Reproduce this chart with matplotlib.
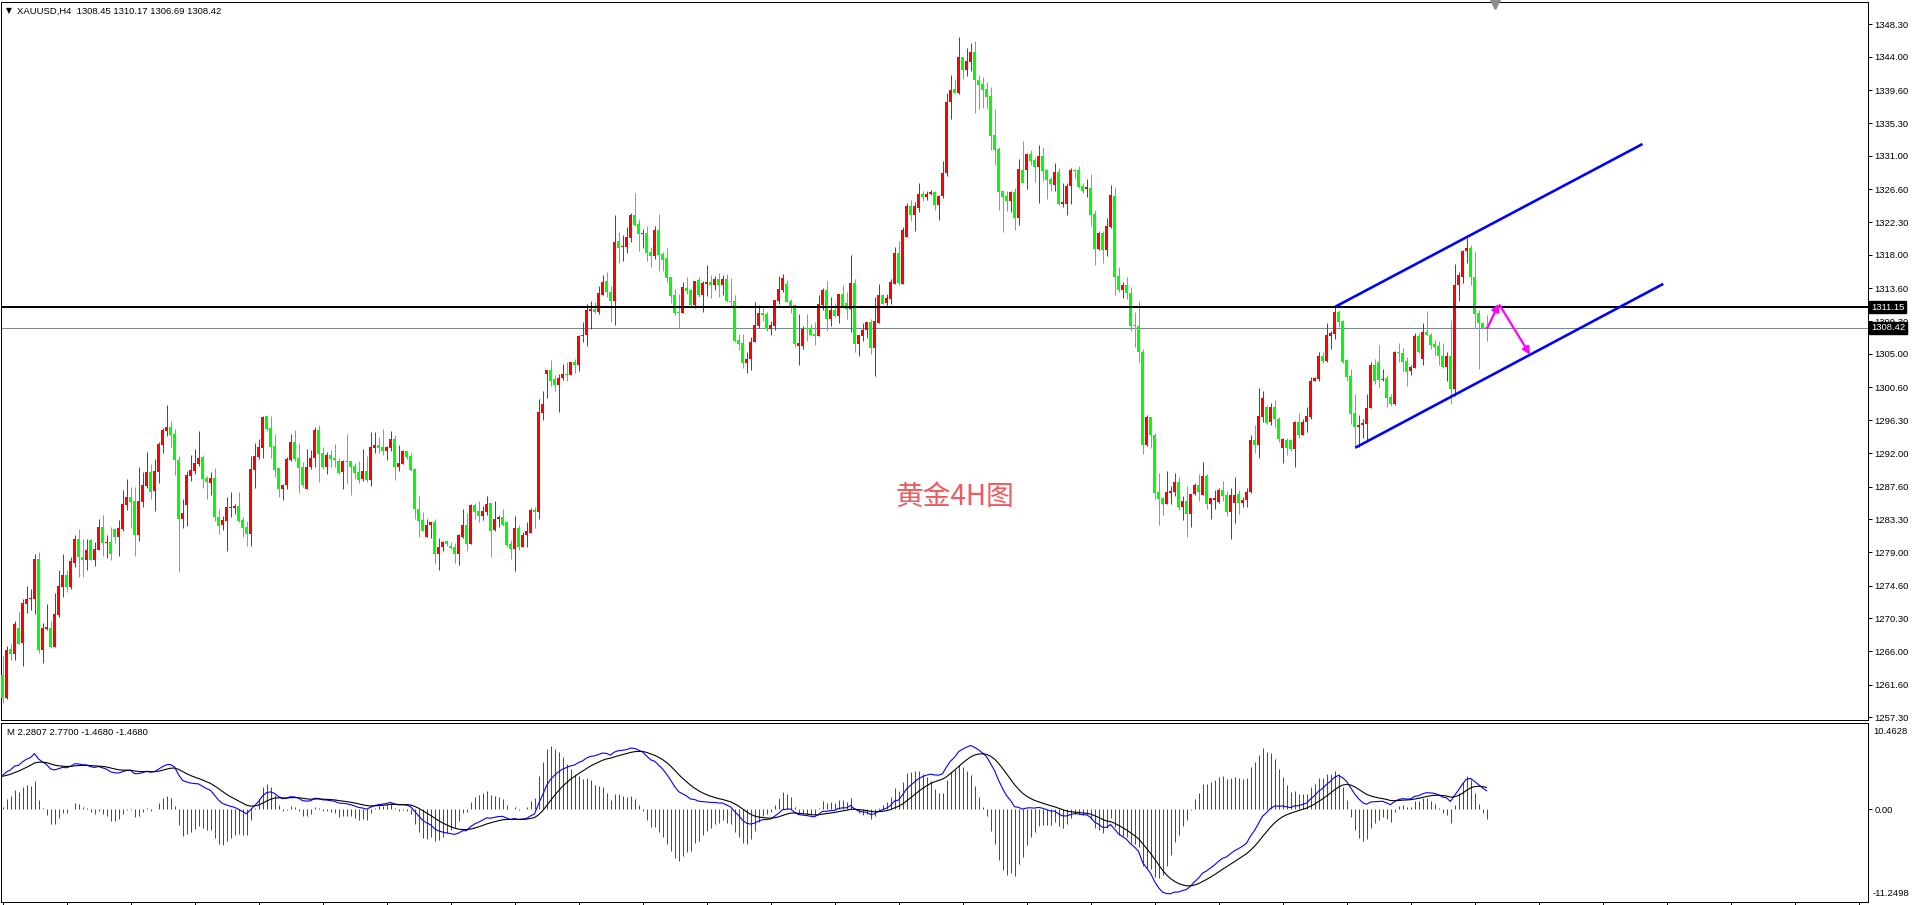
import numpy as np
import matplotlib
matplotlib.use('Agg')
import matplotlib.pyplot as plt
from matplotlib import transforms

# XAUUSD H4 candles (oldest first)
opens = [
    1262.9, 1259.9, 1266.3, 1265.6, 1269.1, 1267.1, 1272.2, 1272.8, 1272.8, 1278.1,
    1266.1, 1268.9, 1269.1, 1266.5, 1270.7, 1274.4, 1276.0, 1274.4, 1277.6, 1280.7,
    1278.3, 1278.0, 1280.6, 1277.9, 1279.3, 1282.3, 1280.2, 1280.3, 1282.0, 1281.0,
    1282.0, 1285.2, 1286.2, 1285.7, 1281.2, 1285.6, 1287.7, 1289.5, 1287.0, 1289.5,
    1293.1, 1294.9, 1295.4, 1294.5, 1291.1, 1283.3, 1285.2, 1289.0, 1289.6, 1290.6,
    1291.5, 1288.7, 1288.1, 1288.7, 1283.6, 1282.6, 1283.1, 1284.8, 1284.8, 1285.0,
    1283.2, 1282.3, 1281.4, 1289.8, 1291.5, 1292.7, 1296.9, 1295.3, 1292.9, 1290.0,
    1287.3, 1287.8, 1291.1, 1293.4, 1291.3, 1290.1, 1287.3, 1290.1, 1291.3, 1295.0,
    1292.0, 1290.2, 1291.7, 1291.4, 1291.0, 1289.5, 1291.0, 1290.9, 1290.3, 1289.5,
    1288.6, 1289.6, 1288.5, 1292.7, 1293.1, 1292.8, 1292.3, 1292.7, 1293.8, 1290.2,
    1290.6, 1292.2, 1291.6, 1289.9, 1284.6, 1283.2, 1281.0, 1282.6, 1282.9, 1278.8,
    1279.6, 1280.4, 1279.8, 1279.6, 1278.7, 1281.0, 1282.6, 1280.1, 1285.2, 1284.4,
    1283.7, 1284.3, 1285.4, 1281.9, 1283.3, 1283.6, 1282.9, 1280.1, 1279.4, 1282.2,
    1279.6, 1281.2, 1281.5, 1284.5, 1284.3, 1297.3, 1302.4, 1302.9, 1301.7, 1300.9,
    1301.8, 1302.4, 1302.2, 1303.9, 1303.6, 1307.4, 1307.5, 1310.6, 1310.9, 1310.5,
    1312.8, 1314.6, 1313.1, 1312.0, 1319.8, 1319.1, 1319.1, 1320.2, 1323.2, 1322.1,
    1320.7, 1320.9, 1318.4, 1317.9, 1321.3, 1318.1, 1317.6, 1315.1, 1312.7, 1310.5,
    1310.4, 1313.7, 1313.4, 1311.4, 1314.7, 1312.7, 1314.2, 1314.4, 1314.1, 1314.8,
    1314.1, 1314.8, 1312.0, 1311.9, 1306.8, 1306.4, 1303.8, 1304.3, 1306.6, 1308.7,
    1310.4, 1310.2, 1308.3, 1308.7, 1311.9, 1313.4, 1314.2, 1311.9, 1311.4, 1306.1,
    1306.1, 1308.4, 1308.4, 1307.6, 1307.4, 1311.4, 1313.4, 1309.6, 1310.8, 1310.0,
    1312.9, 1311.7, 1310.9, 1314.3, 1306.3, 1307.4, 1308.1, 1309.2, 1305.8, 1309.1,
    1312.7, 1311.7, 1312.2, 1314.2, 1318.3, 1314.2, 1320.4, 1324.4, 1323.2, 1324.2,
    1326.0, 1325.6, 1326.0, 1326.3, 1324.6, 1325.7, 1328.7, 1338.0, 1339.8, 1339.2,
    1344.0, 1342.3, 1343.3, 1344.6, 1341.0, 1340.4, 1339.8, 1338.9, 1333.7, 1331.9,
    1326.4, 1325.7, 1325.1, 1326.3, 1322.8, 1329.1, 1329.1, 1331.2, 1330.5, 1329.5,
    1331.0, 1329.1, 1328.0, 1327.2, 1328.9, 1324.7, 1324.7, 1327.0, 1329.1, 1329.1,
    1327.0, 1326.6, 1326.8, 1323.4, 1318.8, 1320.9, 1318.6, 1321.7, 1325.7, 1315.2,
    1313.4, 1314.1, 1313.0, 1308.8, 1308.7, 1305.3, 1293.1, 1296.7, 1294.4, 1286.9,
    1286.1, 1285.3, 1286.8, 1286.9, 1288.2, 1284.9, 1285.7, 1284.0, 1286.6, 1287.8,
    1286.5, 1289.0, 1285.3, 1285.8, 1285.6, 1287.1, 1286.5, 1284.2, 1285.4, 1286.6,
    1285.4, 1285.8, 1286.9, 1293.7, 1293.0, 1296.7, 1298.0, 1296.1, 1298.0, 1296.5,
    1292.7, 1293.7, 1293.7, 1292.5, 1296.1, 1294.4, 1296.1, 1296.7, 1301.4, 1301.7,
    1304.7, 1304.1, 1307.4, 1307.6, 1310.5, 1309.3, 1304.2, 1302.1, 1297.2, 1295.4,
    1295.7, 1295.8, 1297.9, 1303.5, 1303.9, 1301.6, 1301.8, 1299.3, 1298.4, 1305.3,
    1305.1, 1304.1, 1302.7, 1303.2, 1307.4, 1304.4, 1307.9, 1307.5, 1306.3, 1306.1,
    1304.7, 1303.3, 1304.7, 1300.4, 1314.1, 1315.1, 1318.5, 1318.9, 1315.1, 1310.4,
    1309.1, 1308.45,
]
highs = [
    1265.3, 1266.7, 1267.0, 1269.9, 1271.1, 1272.8, 1274.5, 1274.2, 1278.7, 1279.0,
    1269.7, 1272.2, 1270.0, 1273.6, 1276.6, 1278.7, 1276.7, 1278.4, 1281.2, 1282.0,
    1280.7, 1280.7, 1280.7, 1280.3, 1283.3, 1283.9, 1281.2, 1282.3, 1282.2, 1283.2,
    1287.1, 1288.6, 1287.5, 1287.5, 1290.2, 1289.5, 1292.1, 1290.6, 1291.2, 1293.4,
    1295.3, 1298.3, 1296.2, 1295.2, 1291.6, 1286.0, 1289.6, 1291.7, 1292.5, 1294.9,
    1291.7, 1289.0, 1289.5, 1290.0, 1284.7, 1283.7, 1286.2, 1286.9, 1285.3, 1286.9,
    1283.6, 1283.1, 1291.6, 1293.3, 1293.8, 1296.9, 1296.9, 1296.9, 1294.5, 1290.0,
    1287.9, 1291.5, 1294.5, 1295.0, 1293.3, 1290.8, 1292.5, 1292.4, 1295.4, 1295.7,
    1292.8, 1292.1, 1292.4, 1293.2, 1291.4, 1291.1, 1294.5, 1291.0, 1290.7, 1291.0,
    1292.5, 1291.6, 1294.8, 1294.7, 1294.1, 1295.2, 1292.9, 1294.9, 1294.4, 1293.1,
    1292.4, 1292.3, 1292.0, 1290.0, 1286.4, 1284.3, 1283.3, 1282.9, 1283.4, 1280.8,
    1280.5, 1280.6, 1280.3, 1280.2, 1281.4, 1284.7, 1284.1, 1285.3, 1285.4, 1285.7,
    1285.0, 1286.4, 1285.5, 1285.7, 1283.9, 1284.7, 1283.1, 1280.6, 1283.7, 1282.6,
    1281.6, 1283.0, 1284.8, 1284.9, 1299.1, 1300.1, 1302.9, 1304.2, 1302.2, 1302.4,
    1303.7, 1304.0, 1304.0, 1304.4, 1307.5, 1309.2, 1311.6, 1311.9, 1311.8, 1313.9,
    1315.4, 1315.8, 1313.9, 1323.2, 1321.0, 1320.6, 1321.7, 1323.5, 1326.1, 1322.7,
    1321.4, 1321.8, 1319.0, 1321.8, 1323.4, 1318.4, 1318.9, 1315.1, 1313.5, 1312.9,
    1314.5, 1315.1, 1313.5, 1314.6, 1315.1, 1314.6, 1316.7, 1315.4, 1315.2, 1315.6,
    1315.4, 1315.5, 1315.0, 1312.7, 1307.6, 1307.6, 1305.3, 1307.2, 1311.8, 1311.4,
    1311.0, 1310.5, 1309.3, 1312.1, 1315.2, 1315.5, 1314.7, 1312.2, 1311.4, 1310.2,
    1308.7, 1310.2, 1308.9, 1309.2, 1312.7, 1313.7, 1314.6, 1312.5, 1311.7, 1312.9,
    1314.1, 1313.1, 1318.0, 1314.8, 1307.5, 1309.1, 1309.2, 1309.6, 1312.5, 1314.2,
    1312.9, 1312.9, 1314.8, 1319.0, 1319.8, 1321.7, 1324.8, 1325.2, 1325.0, 1327.4,
    1326.4, 1326.4, 1326.5, 1326.4, 1325.9, 1330.3, 1339.2, 1341.6, 1341.1, 1346.6,
    1344.0, 1345.2, 1345.8, 1346.1, 1341.6, 1341.4, 1340.7, 1340.0, 1337.2, 1332.2,
    1326.4, 1326.4, 1326.4, 1326.8, 1330.6, 1332.9, 1331.4, 1331.8, 1330.9, 1332.4,
    1332.2, 1329.3, 1328.2, 1330.1, 1329.4, 1327.4, 1327.4, 1329.4, 1329.3, 1329.7,
    1327.4, 1328.0, 1328.6, 1323.9, 1321.1, 1321.1, 1322.9, 1327.2, 1326.9, 1316.4,
    1314.4, 1315.1, 1313.8, 1310.5, 1311.9, 1305.7, 1297.0, 1296.7, 1294.6, 1289.4,
    1286.2, 1289.6, 1287.7, 1289.4, 1288.9, 1286.4, 1287.7, 1286.6, 1288.1, 1289.2,
    1290.8, 1289.3, 1286.1, 1287.2, 1287.4, 1288.3, 1287.0, 1287.4, 1288.8, 1287.1,
    1286.2, 1287.4, 1294.4, 1295.7, 1300.5, 1300.1, 1298.3, 1298.6, 1299.0, 1296.7,
    1294.0, 1294.0, 1293.9, 1296.2, 1297.2, 1296.5, 1298.1, 1302.0, 1302.0, 1305.3,
    1305.3, 1309.0, 1308.0, 1311.2, 1310.8, 1309.5, 1304.4, 1303.0, 1299.7, 1297.0,
    1296.5, 1299.8, 1303.9, 1304.3, 1306.2, 1303.0, 1302.2, 1299.7, 1305.4, 1306.5,
    1305.8, 1304.6, 1303.5, 1307.8, 1307.8, 1309.0, 1310.7, 1307.8, 1306.8, 1306.7,
    1306.4, 1305.3, 1309.5, 1316.8, 1315.8, 1318.6, 1320.2, 1319.3, 1318.4, 1310.8,
    1309.2, 1310.17,
]
lows = [
    1259.2, 1259.7, 1264.8, 1264.8, 1266.9, 1264.1, 1271.0, 1271.4, 1270.9, 1265.7,
    1264.4, 1268.8, 1266.4, 1266.5, 1270.5, 1273.1, 1273.8, 1274.1, 1277.0, 1275.7,
    1275.7, 1276.6, 1277.9, 1277.2, 1279.3, 1278.5, 1278.2, 1278.0, 1280.2, 1278.5,
    1281.8, 1284.5, 1282.2, 1278.5, 1280.5, 1284.9, 1287.4, 1286.0, 1284.4, 1288.1,
    1292.0, 1294.2, 1292.8, 1289.1, 1276.4, 1282.2, 1282.4, 1288.3, 1289.2, 1290.3,
    1287.4, 1286.0, 1286.5, 1283.1, 1281.4, 1281.9, 1279.1, 1283.6, 1284.0, 1282.9,
    1281.0, 1279.8, 1279.8, 1287.4, 1291.2, 1291.3, 1294.9, 1291.3, 1288.9, 1286.2,
    1285.8, 1287.3, 1291.0, 1291.0, 1286.8, 1287.6, 1287.3, 1289.9, 1290.1, 1288.2,
    1289.9, 1289.2, 1290.2, 1290.2, 1289.2, 1287.3, 1288.1, 1286.5, 1288.6, 1288.1,
    1288.3, 1288.2, 1287.7, 1292.0, 1292.0, 1291.8, 1291.1, 1292.3, 1288.5, 1289.7,
    1290.5, 1291.2, 1289.7, 1283.3, 1281.0, 1281.7, 1281.0, 1280.9, 1277.4, 1276.6,
    1279.2, 1279.8, 1279.4, 1277.6, 1277.3, 1280.8, 1279.1, 1280.1, 1283.3, 1282.9,
    1283.2, 1283.8, 1278.4, 1281.8, 1282.3, 1282.4, 1279.7, 1278.1, 1276.5, 1279.3,
    1279.6, 1279.7, 1281.5, 1282.2, 1283.3, 1296.3, 1299.2, 1300.8, 1300.1, 1297.4,
    1301.6, 1301.5, 1302.2, 1302.5, 1302.7, 1306.6, 1306.0, 1308.3, 1310.4, 1310.2,
    1312.7, 1312.5, 1309.2, 1308.8, 1316.9, 1317.2, 1318.3, 1319.7, 1321.8, 1318.5,
    1318.9, 1317.2, 1316.4, 1317.5, 1315.9, 1315.9, 1314.5, 1311.7, 1310.1, 1308.4,
    1310.4, 1312.9, 1311.2, 1311.0, 1312.5, 1310.5, 1312.6, 1312.3, 1313.4, 1312.5,
    1312.7, 1311.8, 1311.2, 1306.6, 1305.5, 1303.2, 1302.5, 1302.9, 1306.6, 1308.4,
    1309.3, 1308.0, 1307.5, 1308.2, 1311.6, 1313.1, 1311.8, 1310.4, 1305.9, 1303.5,
    1305.6, 1306.7, 1307.4, 1306.2, 1307.4, 1310.8, 1308.0, 1308.7, 1309.8, 1309.1,
    1311.0, 1309.6, 1307.9, 1305.3, 1304.7, 1306.7, 1307.1, 1305.0, 1302.1, 1309.1,
    1311.6, 1311.2, 1311.6, 1314.2, 1314.0, 1314.2, 1320.4, 1322.4, 1321.1, 1323.6,
    1325.1, 1325.2, 1325.9, 1323.9, 1322.6, 1325.4, 1328.4, 1335.8, 1339.2, 1339.1,
    1341.1, 1341.5, 1342.1, 1336.6, 1337.2, 1337.3, 1337.2, 1331.8, 1329.8, 1323.9,
    1321.0, 1323.8, 1323.6, 1321.3, 1321.9, 1327.4, 1326.7, 1329.8, 1327.6, 1324.8,
    1327.7, 1325.3, 1326.4, 1326.4, 1324.5, 1324.3, 1323.2, 1324.7, 1328.1, 1326.8,
    1326.1, 1325.6, 1321.8, 1316.7, 1318.6, 1316.9, 1317.9, 1321.5, 1312.7, 1313.1,
    1312.3, 1312.2, 1308.0, 1305.9, 1303.9, 1291.9, 1292.9, 1292.7, 1286.0, 1282.6,
    1283.8, 1285.3, 1285.3, 1286.4, 1284.5, 1283.2, 1281.0, 1282.3, 1286.5, 1285.7,
    1286.5, 1284.6, 1283.4, 1284.6, 1285.4, 1285.7, 1283.7, 1280.7, 1282.8, 1284.0,
    1284.9, 1284.9, 1286.8, 1292.0, 1291.3, 1296.1, 1295.8, 1295.7, 1295.4, 1293.4,
    1290.7, 1291.8, 1292.3, 1290.2, 1294.0, 1294.3, 1294.8, 1296.5, 1301.4, 1301.4,
    1303.8, 1303.9, 1305.7, 1307.0, 1308.5, 1303.8, 1301.4, 1295.8, 1292.6, 1292.8,
    1294.0, 1293.7, 1297.9, 1301.1, 1300.5, 1301.4, 1298.0, 1298.2, 1298.3, 1303.9,
    1302.7, 1300.8, 1302.2, 1303.2, 1305.1, 1303.5, 1307.5, 1305.6, 1304.9, 1303.6,
    1303.1, 1301.4, 1298.4, 1299.5, 1311.9, 1314.3, 1316.9, 1314.1, 1308.4, 1303.0,
    1308.3, 1306.69,
]
closes = [
    1259.9, 1266.2, 1265.6, 1269.6, 1267.0, 1272.3, 1272.8, 1273.0, 1278.1, 1266.1,
    1269.0, 1269.2, 1266.5, 1270.9, 1274.5, 1276.0, 1274.4, 1277.8, 1280.7, 1278.3,
    1278.0, 1279.3, 1277.9, 1279.4, 1282.3, 1280.2, 1280.3, 1278.7, 1281.0, 1282.2,
    1285.3, 1286.2, 1285.6, 1281.2, 1285.7, 1287.8, 1289.5, 1286.9, 1289.6, 1293.2,
    1295.0, 1295.4, 1294.4, 1291.1, 1283.3, 1284.1, 1289.1, 1289.8, 1290.7, 1291.3,
    1288.6, 1288.2, 1288.7, 1283.6, 1282.4, 1283.2, 1284.9, 1284.9, 1285.0, 1283.1,
    1282.2, 1281.4, 1289.9, 1291.6, 1292.8, 1296.7, 1295.2, 1292.8, 1289.8, 1287.3,
    1287.8, 1291.2, 1293.4, 1291.2, 1290.0, 1287.8, 1290.2, 1291.3, 1295.0, 1291.9,
    1290.2, 1291.7, 1291.2, 1291.1, 1289.4, 1291.0, 1290.8, 1290.2, 1289.4, 1288.5,
    1289.6, 1288.4, 1292.8, 1293.1, 1292.6, 1292.3, 1292.8, 1293.8, 1290.2, 1290.7,
    1292.2, 1291.5, 1289.8, 1284.6, 1283.1, 1281.8, 1282.6, 1282.9, 1278.8, 1279.7,
    1280.3, 1280.0, 1279.5, 1278.7, 1281.2, 1282.6, 1280.1, 1285.2, 1284.3, 1283.7,
    1284.4, 1285.3, 1281.8, 1283.4, 1283.6, 1282.6, 1279.9, 1279.4, 1282.2, 1279.6,
    1281.3, 1281.7, 1284.5, 1284.3, 1297.4, 1298.4, 1302.9, 1301.5, 1300.9, 1301.8,
    1302.4, 1302.2, 1303.9, 1303.5, 1307.4, 1307.5, 1310.8, 1310.9, 1310.5, 1313.0,
    1314.5, 1313.1, 1312.0, 1319.7, 1318.9, 1319.2, 1320.4, 1323.2, 1321.9, 1320.8,
    1320.9, 1318.3, 1317.9, 1321.3, 1318.0, 1317.3, 1315.0, 1312.6, 1310.4, 1310.4,
    1313.8, 1313.3, 1311.4, 1314.6, 1312.7, 1314.3, 1314.4, 1314.1, 1314.8, 1314.1,
    1314.8, 1312.0, 1311.8, 1306.7, 1306.3, 1303.8, 1304.3, 1306.6, 1308.8, 1310.4,
    1310.1, 1308.3, 1308.8, 1312.1, 1313.5, 1315.0, 1311.8, 1311.3, 1306.3, 1306.4,
    1308.3, 1308.3, 1307.5, 1307.4, 1311.6, 1313.4, 1309.6, 1310.8, 1310.0, 1312.9,
    1311.3, 1310.9, 1314.3, 1306.3, 1307.5, 1308.1, 1309.2, 1305.8, 1309.3, 1312.7,
    1311.6, 1312.3, 1314.4, 1318.3, 1314.3, 1321.3, 1324.4, 1323.2, 1324.4, 1326.0,
    1325.6, 1326.0, 1326.3, 1324.6, 1325.7, 1328.7, 1338.1, 1339.6, 1339.2, 1344.0,
    1342.3, 1343.4, 1344.6, 1340.9, 1340.3, 1339.7, 1338.7, 1333.6, 1331.8, 1326.3,
    1325.6, 1325.1, 1326.3, 1322.8, 1329.3, 1327.4, 1331.2, 1330.3, 1329.5, 1331.0,
    1329.0, 1327.8, 1327.3, 1328.9, 1324.7, 1324.9, 1327.0, 1329.1, 1329.0, 1326.9,
    1326.4, 1326.9, 1323.2, 1318.8, 1320.9, 1318.6, 1321.8, 1325.9, 1315.1, 1313.4,
    1314.1, 1313.0, 1308.7, 1308.7, 1305.3, 1293.0, 1296.7, 1294.3, 1286.8, 1286.0,
    1285.3, 1286.9, 1287.0, 1288.2, 1284.9, 1285.7, 1284.0, 1286.6, 1287.8, 1286.9,
    1289.0, 1285.3, 1286.1, 1286.1, 1287.1, 1286.4, 1284.2, 1286.5, 1286.5, 1285.4,
    1285.8, 1286.9, 1293.7, 1293.0, 1296.8, 1299.2, 1295.9, 1298.0, 1296.5, 1293.9,
    1293.9, 1292.7, 1292.5, 1296.1, 1294.4, 1296.1, 1296.8, 1301.5, 1301.9, 1304.7,
    1304.1, 1307.5, 1307.7, 1310.5, 1309.2, 1304.0, 1302.0, 1297.1, 1295.4, 1295.7,
    1295.9, 1297.9, 1303.5, 1301.4, 1301.6, 1301.7, 1299.2, 1298.4, 1305.3, 1305.1,
    1303.9, 1302.6, 1303.3, 1307.4, 1305.3, 1307.9, 1307.5, 1306.2, 1305.9, 1304.7,
    1303.3, 1304.7, 1300.4, 1314.1, 1315.4, 1318.5, 1318.9, 1315.1, 1310.2, 1309.1,
    1308.4, 1308.42,
]

price_ticks = [1348.30, 1344.00, 1339.60, 1335.30, 1331.00, 1326.60, 1322.30, 1318.00,
               1313.60, 1309.30, 1305.00, 1300.60, 1296.30, 1292.00, 1287.60, 1283.30,
               1279.00, 1274.60, 1270.30, 1266.00, 1261.60, 1257.30]
level_price = 1311.15
bid_price = 1308.42
header = 'XAUUSD,H4  1308.45 1310.17 1306.69 1308.42'
macd_header = 'M 2.2807 2.7700 -1.4680 -1.4680'
macd_top, macd_bottom = 10.4628, -11.2498
# MACD state at the first bar
dif_first, dea_first = 4.1, 4.0

# channel lines and arrows: (bar index, price)
upper_channel = [(333.2, 1311.2), (410.0, 1332.55)]
lower_channel = [(338.2, 1292.7), (415.2, 1314.2)]
arrow_up = [(371.2, 1308.4), (374.1, 1311.6)]
arrow_down = [(374.3, 1311.4), (381.9, 1304.9)]

W, H = 1917, 905
PX = 72.0 / 100  # one pixel in points
font = ['Liberation Sans', 'DejaVu Sans']

o = np.array(opens)
hi = np.array(highs)
lo = np.array(lows)
c = np.array(closes)
n = len(c)
x = np.arange(n)

# MACD 12/26/9, bars = 3 * (DIF - DEA)
fast = np.empty(n)
slow = np.empty(n)
dea = np.empty(n)
fast[0] = c[0] - 3.0
slow[0] = fast[0] - dif_first
dea[0] = dea_first
for t in range(1, n):
    fast[t] = fast[t - 1] + 2 / 13 * (c[t] - fast[t - 1])
    slow[t] = slow[t - 1] + 2 / 27 * (c[t] - slow[t - 1])
dif = fast - slow
for t in range(1, n):
    dea[t] = dea[t - 1] + 0.2 * (dif[t] - dea[t - 1])
bars = 3 * (dif - dea)

fig = plt.figure(figsize=(W / 100, H / 100), dpi=100)
fig.patch.set_facecolor('white')

xmin, xmax = -0.375, -0.375 + 1867 / 4
ax = fig.add_axes([1 / W, (H - 720) / H, 1867 / W, 718 / H])
ax2 = fig.add_axes([1 / W, (H - 902) / H, 1867 / W, 179 / H])

# ---- price panel
ax.set_xlim(xmin, xmax)
ax.set_ylim(1348.3 - 696 / 7.62, 1348.3 + 22 / 7.62)
col = np.where(c >= o, '#FF0000', '#00FF00')
ax.vlines(x, lo, hi, colors=col, linewidth=PX, zorder=3)
body = np.maximum(np.abs(c - o), 0.13)
ax.bar(x, body, bottom=np.minimum(o, c), width=0.75, color=col, linewidth=0, zorder=3)

ax.axhline(bid_price, color='#778899', lw=PX, zorder=1)
ax.axhline(level_price, color='black', lw=2 * PX, zorder=4)

for seg in (upper_channel, lower_channel):
    ax.plot([seg[0][0], seg[1][0]], [seg[0][1], seg[1][1]], color='#0000FF', lw=2.6 * PX,
            zorder=5, solid_capstyle='butt')
for a in (arrow_up, arrow_down):
    ax.annotate('', xy=a[1], xytext=a[0], zorder=6,
                arrowprops=dict(arrowstyle='-|>', color='#FF00FF', lw=2.2 * PX,
                                mutation_scale=11, shrinkA=0, shrinkB=0))

ax.text(238, 1286.2, '黄金4H图', fontsize=20, color='#ef5a5f', ha='center', va='center',
        family=['Noto Sans CJK SC', 'DejaVu Sans'], fontweight='light', zorder=6)

ax.yaxis.tick_right()
ax.set_yticks(price_ticks)
ax.set_yticklabels(['%.2f' % v for v in price_ticks])
ax.tick_params(axis='y', length=4 * PX, width=PX, pad=2, labelsize=6.8, colors='black')
for lab in ax.get_yticklabels():
    lab.set_family(font)
ax.set_xticks([])
for s in ax.spines.values():
    s.set_linewidth(PX)
    s.set_color('black')

tr = transforms.blended_transform_factory(ax.transAxes, ax.transData)
for val in (level_price, bid_price):
    ax.text(1 + 3 / 1867, val, '%.2f' % val, transform=tr, ha='left', va='center',
            color='white', fontsize=6.8, family=font, zorder=10, clip_on=False,
            bbox=dict(boxstyle='square,pad=0.18', fc='black', ec='black'))

trx = transforms.blended_transform_factory(ax.transData, ax.transAxes)
ax.plot([373], [1 - 2 / 718], marker='v', color='#8c8c8c', ms=6.5, transform=trx,
        clip_on=False, zorder=10)

fig.text(6 / W, 1 - 11 / H, '▼', fontsize=5.5, family=['DejaVu Sans'], va='center', ha='left')
fig.text(17 / W, 1 - 11 / H, header, fontsize=6.8, family=font, va='center', ha='left')

# ---- MACD panel
ax2.set_xlim(xmin, xmax)
ax2.set_ylim(macd_bottom, macd_top)
ax2.vlines(x, 0, bars, colors=np.where(bars >= 0, '#008000', '#FF0000'), linewidth=PX, zorder=2)
ax2.plot(x, dif, color='#0000FF', lw=PX * 1.1, zorder=3)
ax2.plot(x, dea, color='black', lw=PX * 1.1, zorder=3)

ax2.yaxis.tick_right()
ax2.set_yticks([0])
ax2.set_yticklabels(['0.00'])
ax2.tick_params(axis='y', length=4 * PX, width=PX, pad=2, labelsize=6.8, colors='black')
for lab in ax2.get_yticklabels():
    lab.set_family(font)
ax2.set_xticks(np.arange(0, 467, 16))
ax2.set_xticklabels([])
ax2.tick_params(axis='x', length=3 * PX, width=PX, direction='out')
for s in ax2.spines.values():
    s.set_linewidth(PX)
    s.set_color('black')
ax2.text(1 + 5 / 1867, 1 - 4 / 179, '%.4f' % macd_top, transform=ax2.transAxes, ha='left',
         va='top', fontsize=6.8, family=font, clip_on=False)
ax2.text(1 + 5 / 1867, 4 / 179, '%.4f' % macd_bottom, transform=ax2.transAxes, ha='left',
         va='bottom', fontsize=6.8, family=font, clip_on=False)
ax2.text(6 / 1867, 1 - 9 / 179, macd_header, transform=ax2.transAxes, ha='left', va='center',
         fontsize=6.8, family=font)

fig.savefig('out.png', dpi=100, facecolor='white')
